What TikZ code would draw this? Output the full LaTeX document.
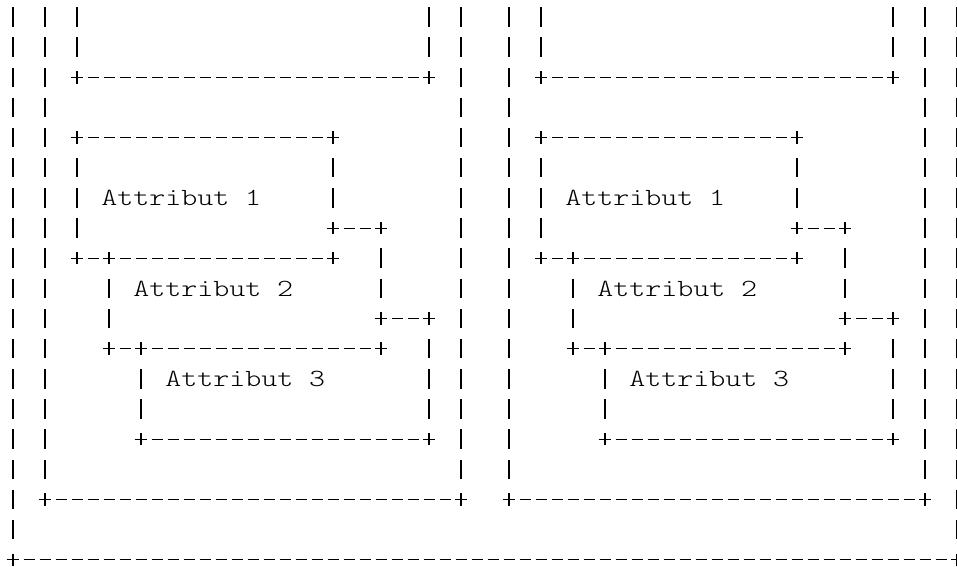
\documentclass[tikz,border=0pt]{standalone}
\usepackage{fontspec}
\newfontfamily\monolight{lmmonolt10-regular.otf}

\tikzset{
  hdash/.style={line width=0.8pt, dash pattern=on 8.25pt off 3.75pt,
    shorten <=7.875pt, shorten >=7.875pt},
  vdash/.style={line width=0.8pt, dash pattern=on 14.6pt off 8.0125pt,
    shorten <=15.3125pt, shorten >=15.3125pt},
  attrtext/.style={anchor=base west, inner sep=0pt,
    font=\monolight\fontsize{18.5}{22}\selectfont},
  pics/asciiplus/.style={code={
    \draw[line width=0.8pt] (-4.75pt,0) -- (4.75pt,0) (0,-4.65pt) -- (0,4.65pt);}}
}
\newcommand\wideattr[1]{\scalebox{1.2355}[1]{#1}}

\begin{document}
\begin{tikzpicture}[x=12pt, y=-22.6125pt]
    \useasboundingbox (-0.8125,-0.564) rectangle (59,18.21);

    % outer frame
    \draw[vdash] (0,-1) -- (0,18);
    \draw[vdash] (59,-1) -- (59,18);
    \draw[hdash] (0,18) -- (59,18);
    \pic at (0,18) {asciiplus};
    \pic at (59,18) {asciiplus};

    % two identical blocks
    \foreach \dx in {0,29}{
      \begin{scope}[shift={(\dx,0)}]
        \foreach \col/\ra/\rb in {2/-1/16, 28/-1/16, 4/-1/2, 26/-1/2, 4/4/8,
                                  20/4/7, 23/7/10, 6/8/11, 26/10/14, 8/11/14}
          \draw[vdash] (\col,\ra) -- (\col,\rb);
        \foreach \rw/\ca/\cb in {2/4/26, 16/2/28, 4/4/20, 7/20/23, 8/4/20,
                                 10/23/26, 11/6/23, 14/8/26}
          \draw[hdash] (\ca,\rw) -- (\cb,\rw);
        \foreach \col/\rw in {4/2, 26/2, 2/16, 28/16, 4/4, 20/4, 4/8, 6/8, 20/8,
                              20/7, 23/7, 23/10, 26/10, 6/11, 8/11, 23/11, 8/14, 26/14}
          \pic at (\col,\rw) {asciiplus};

        \node[attrtext] (attr1-\dx) at (5.5,6.265) {\wideattr{Attribut 1}};
        \node[attrtext] (attr2-\dx) at (7.5,9.265) {\wideattr{Attribut 2}};
        \node[attrtext] (attr3-\dx) at (9.5,12.265) {\wideattr{Attribut 3}};
      \end{scope}
    }
\end{tikzpicture}
\end{document}
